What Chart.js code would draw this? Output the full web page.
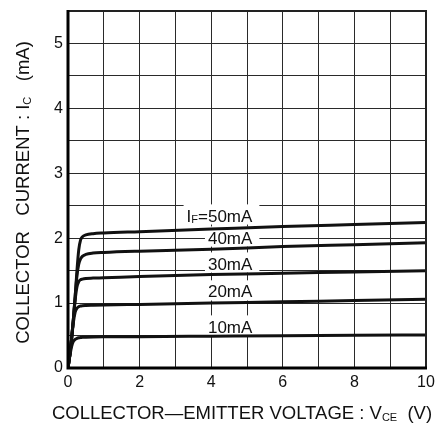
<!DOCTYPE html>
<html>
<head>
<meta charset="utf-8">
<script src="https://cdn.jsdelivr.net/npm/chart.js@4/dist/chart.umd.min.js"></script>
<style>
  html, body { margin: 0; padding: 0; background: #fff; }
  #wrap { position: relative; width: 436px; height: 430px; }
</style>
</head>
<body>
<div id="wrap"><canvas id="c"></canvas></div>
<script>
// Collector-emitter voltage samples (V) shared by every curve
const vce = [0, 0.05, 0.1, 0.15, 0.2, 0.25, 0.3, 0.35, 0.4, 0.5, 0.7, 1, 2, 4, 6, 8, 10];

// Collector current (mA) for each forward current IF
const ic10 = [0, 0.18, 0.33, 0.41, 0.44, 0.455, 0.465, 0.47, 0.472, 0.475, 0.478, 0.48, 0.483, 0.49, 0.497, 0.503, 0.51];
const ic20 = [0, 0.2, 0.45, 0.7, 0.86, 0.92, 0.945, 0.955, 0.96, 0.963, 0.966, 0.97, 0.98, 1.0, 1.02, 1.04, 1.06];
const ic30 = [0, 0.2, 0.45, 0.75, 1.05, 1.25, 1.33, 1.36, 1.37, 1.38, 1.385, 1.39, 1.41, 1.44, 1.46, 1.48, 1.50];
const ic40 = [0, 0.2, 0.45, 0.75, 1.1, 1.42, 1.6, 1.68, 1.72, 1.75, 1.77, 1.78, 1.8, 1.83, 1.87, 1.9, 1.93];
const ic50 = [0, 0.2, 0.45, 0.75, 1.1, 1.5, 1.82, 1.97, 2.02, 2.05, 2.07, 2.08, 2.1, 2.14, 2.18, 2.21, 2.24];

// Curve captions (runs of text; sub = subscript)
const curveNames = [
  [{ t: '10mA' }],
  [{ t: '20mA' }],
  [{ t: '30mA' }],
  [{ t: '40mA' }],
  [{ t: 'I' }, { t: 'F', sub: true }, { t: '=50mA' }]
];

// Axis ticks
const xTickValues = [0, 2, 4, 6, 8, 10];
const yTickValues = [0, 1, 2, 3, 4, 5];

// Axis titles
const xTitle = [{ t: 'COLLECTOR\u2014EMITTER VOLTAGE : V' }, { t: 'CE', sub: true }, { t: '  (V)' }];
const yTitle = [{ t: 'COLLECTOR   CURRENT : I' }, { t: 'C', sub: true }, { t: '   (mA)' }];

const FONT = '"Liberation Sans", Arial, Helvetica, sans-serif';
const INK = '#111';

const series = [ic10, ic20, ic30, ic40, ic50];
const datasets = series.map(arr => ({
  data: vce.map((v, i) => ({ x: v, y: arr[i] })),
  borderColor: INK,
  borderWidth: 3,
  pointRadius: 0,
  fill: false,
  cubicInterpolationMode: 'monotone'
}));

// Draw a sequence of text runs, subscripts smaller and lowered
function runWidths(ctx, runs, size) {
  return runs.map(r => {
    ctx.font = (r.sub ? Math.round(size * 0.62) : size) + 'px ' + FONT;
    return ctx.measureText(r.t).width;
  });
}
function drawRuns(ctx, runs, x, y, size, align) {
  const w = runWidths(ctx, runs, size);
  const total = w.reduce((a, b) => a + b, 0);
  let cx = align === 'right' ? x - total : align === 'center' ? x - total / 2 : x;
  ctx.textBaseline = 'alphabetic';
  ctx.textAlign = 'left';
  runs.forEach((r, i) => {
    const s = r.sub ? Math.round(size * 0.62) : size;
    ctx.font = s + 'px ' + FONT;
    ctx.fillText(r.t, cx, r.sub ? y + size * 0.1 : y);
    cx += w[i];
  });
  return total;
}

const annotate = {
  id: 'annotate',
  beforeDatasetsDraw(chart, args, opts) {
    const { ctx, scales: { x, y } } = chart;
    ctx.save();
    const size = 17;
    const cap = size * 0.716;
    curveNames.forEach((runs, i) => {
      const px = x.getPixelForValue(opts.labelX);
      const py = y.getPixelForValue(opts.labelY[i]);
      const base = py + cap / 2;
      const w = runWidths(ctx, runs, size).reduce((a, b) => a + b, 0);
      ctx.fillStyle = '#fff';
      ctx.fillRect(px - w - 3, base - cap - 5, w + 10, cap + 8);
      ctx.fillStyle = INK;
      drawRuns(ctx, runs, px, base, size, 'right');
    });
    ctx.restore();
  },
  afterDatasetsDraw(chart) {
    const { ctx, chartArea: a } = chart;
    ctx.save();
    ctx.strokeStyle = '#222';
    ctx.lineWidth = 2;
    ctx.beginPath();
    ctx.moveTo(a.left, a.top);
    ctx.lineTo(a.right, a.top);
    ctx.lineTo(a.right, a.bottom);
    ctx.stroke();
    ctx.strokeStyle = '#000';
    ctx.lineWidth = 3;
    ctx.beginPath();
    ctx.moveTo(a.left, a.top - 1);
    ctx.lineTo(a.left, a.bottom);
    ctx.lineTo(a.right + 1, a.bottom);
    ctx.stroke();
    ctx.restore();
  },
  afterDraw(chart) {
    const { ctx, chartArea: a } = chart;
    ctx.save();
    ctx.fillStyle = INK;
    drawRuns(ctx, xTitle, (a.left + a.right) / 2 - 5, 419, 18.5, 'center');
    ctx.translate(29, (a.top + a.bottom) / 2 + 3);
    ctx.rotate(-Math.PI / 2);
    drawRuns(ctx, yTitle, 0, 0, 18.5, 'center');
    ctx.restore();
  }
};

new Chart(document.getElementById('c'), {
  type: 'line',
  data: { datasets },
  plugins: [annotate],
  options: {
    responsive: true,
    maintainAspectRatio: false,
    animation: false,
    events: [],
    layout: { padding: { left: 0, top: 11, right: 10, bottom: 0 } },
    plugins: {
      legend: { display: false },
      tooltip: { enabled: false },
      annotate: { labelX: 5.15, labelY: [0.64, 1.18, 1.61, 2.01, 2.35] }
    },
    scales: {
      x: {
        type: 'linear',
        min: 0,
        max: 10,
        afterFit(s) { s.height = 62; s.paddingLeft = 0; s.paddingRight = 0; },
        afterBuildTicks(s) {
          s.ticks = Array.from({ length: 11 }, (_, i) => ({ value: i }));
        },
        border: { display: false },
        grid: { color: '#2a2a2a', lineWidth: 1, drawTicks: false },
        ticks: {
          padding: 5,
          maxRotation: 0,
          autoSkip: false,
          color: INK,
          font: { family: FONT, size: 16 },
          callback: v => (xTickValues.includes(v) ? String(v) : '')
        }
      },
      y: {
        type: 'linear',
        min: 0,
        max: 5.5,
        afterFit(s) { s.width = 68; s.paddingTop = 0; s.paddingBottom = 0; },
        afterBuildTicks(s) {
          s.ticks = Array.from({ length: 12 }, (_, i) => ({ value: i * 0.5 }));
        },
        border: { display: false },
        grid: { color: '#2a2a2a', lineWidth: 1, drawTicks: false },
        ticks: {
          padding: 5,
          autoSkip: false,
          color: INK,
          font: { family: FONT, size: 16 },
          callback: v => (yTickValues.includes(v) ? String(v) : '')
        }
      }
    }
  }
});
</script>
</body>
</html>
